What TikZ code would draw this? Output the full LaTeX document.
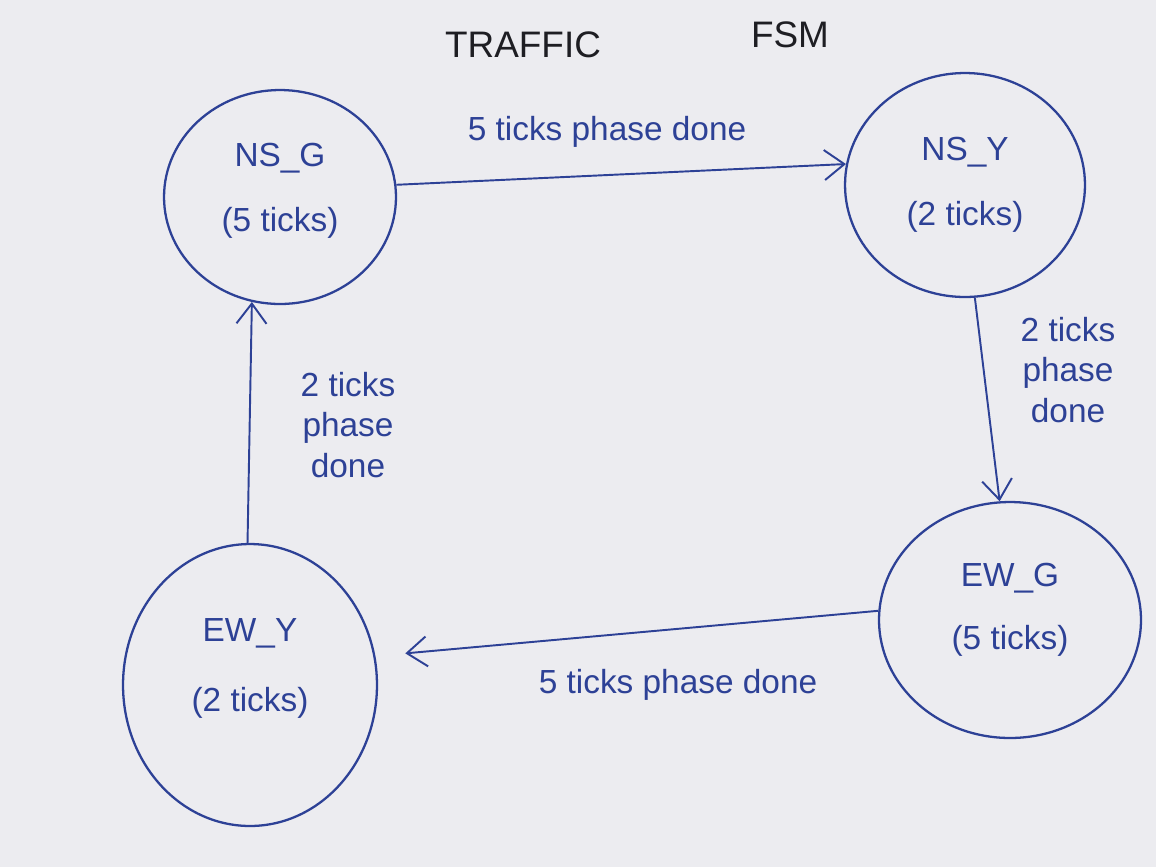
\documentclass[tikz,border=0pt]{standalone}
\usepackage{fontspec}
\setmainfont{Liberation Sans}
\usetikzlibrary{shapes.geometric,arrows.meta}
\definecolor{ink}{RGB}{45,65,150}
\definecolor{paper}{RGB}{236,236,240}
\definecolor{titleink}{RGB}{30,30,35}
\begin{document}
\begin{tikzpicture}[x=0.02cm,y=-0.02cm,
  state/.style={draw=ink,line width=1.3pt,ellipse,inner sep=0pt,text=ink,align=center,font=\fontsize{19}{23}\selectfont},
  lbl/.style={text=ink,font=\fontsize{19}{23}\selectfont,align=center},
  ttl/.style={text=titleink,font=\fontsize{21}{25}\selectfont},
  tr/.style={draw=ink,line width=1.1pt,-{Straight Barb[length=4mm,width=6mm]}}]
\fill[paper] (0,0) rectangle (1156,867);
\useasboundingbox (0,0) rectangle (1156,867);

\node[ttl] (t1) at (523,45) {TRAFFIC};
\node[ttl] (t2) at (790,35) {FSM};

\node[state,minimum width=4.64cm,minimum height=4.28cm] (nsg) at (280,197) {NS\_G\\[0.5cm](5 ticks)\\[-0.41cm]\mbox{}};
\node[state,minimum width=4.8cm,minimum height=4.48cm] (nsy) at (965,185) {NS\_Y\\[0.5cm](2 ticks)};
\node[state,minimum width=5.24cm,minimum height=4.72cm] (ewg) at (1010,620) {EW\_G\\[0.45cm](5 ticks)\\[-0.25cm]\mbox{}};
\node[state,minimum width=5.08cm,minimum height=5.64cm] (ewy) at (250,685) {EW\_Y\\[0.6cm](2 ticks)\\[0cm]\mbox{}};

\draw[tr] (nsg.6) -- (nsy.170);
\draw[tr] (nsy.275) -- (ewg.95);
\draw[tr,shorten >=0.6cm] (ewg.176) -- (ewy.13);
\draw[tr] (ewy.91) -- (nsg.255);

\node[lbl] (l1) at (607,132) {5 ticks phase done};
\node[lbl] (l2) at (1068,370) {2 ticks\\phase\\done};
\node[lbl] (l3) at (678,685) {5 ticks phase done};
\node[lbl] (l4) at (348,425) {2 ticks\\phase\\done};
\end{tikzpicture}
\end{document}
